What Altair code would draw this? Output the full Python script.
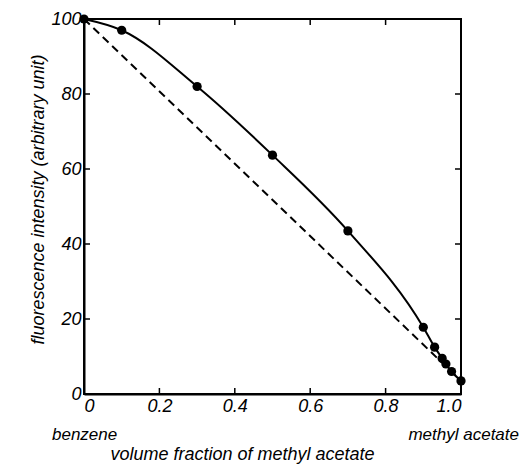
import altair as alt
import pandas as pd

# data
frac = [0.0, 0.1, 0.3, 0.5, 0.7, 0.9, 0.93, 0.95, 0.96, 0.975, 1.0]
intensity = [100, 97, 82, 63.7, 43.5, 17.8, 12.5, 9.5, 8.0, 6.0, 3.5]
ideal_x = [0.0, 1.0]
ideal_y = [100, 3.5]
x_ticks = [0.0, 0.2, 0.4, 0.6, 0.8, 1.0]
y_ticks = [0, 20, 40, 60, 80, 100]

FONT = "Liberation Sans"
W, H = 377, 375

pts = pd.DataFrame({"x": frac, "y": intensity})
ideal = pd.DataFrame({"x": ideal_x, "y": ideal_y})

xs = alt.Scale(domain=[0, 1], nice=False, zero=False)
ys = alt.Scale(domain=[0, 100], nice=False)

xax = alt.Axis(values=x_ticks, labelExpr="datum.value == 0 ? '0' : format(datum.value, '.1f')",
               title="volume fraction of methyl acetate", titleFont=FONT, titleFontSize=18,
               titleFontStyle="italic", titleFontWeight="normal", titlePadding=30, titleX=158,
               labelFont=FONT, labelFontSize=18, labelFontStyle="italic", labelPadding=3,
               tickSize=0, grid=False, domainColor="black", domainWidth=2,
               labelColor="black", titleColor="black")
yax = alt.Axis(values=y_ticks, title="fluorescence intensity (arbitrary unit)", titleFont=FONT,
               titleFontSize=18, titleFontStyle="italic", titleFontWeight="normal", titlePadding=3,
               titleY=180,
               labelFont=FONT, labelFontSize=18, labelFontStyle="italic", labelPadding=3,
               tickSize=0, grid=False, domainColor="black", domainWidth=2,
               labelColor="black", titleColor="black")

base = alt.Chart(pts)

curve = base.mark_line(color="black", strokeWidth=2, interpolate="monotone").encode(
    x=alt.X("x:Q", scale=xs, axis=xax), y=alt.Y("y:Q", scale=ys, axis=yax))
dots = base.mark_point(filled=True, color="black", size=85, opacity=1).encode(
    x=alt.X("x:Q", scale=xs), y=alt.Y("y:Q", scale=ys))
dash = alt.Chart(ideal).mark_line(color="black", strokeWidth=2, strokeDash=[8, 5]).encode(
    x=alt.X("x:Q", scale=xs), y=alt.Y("y:Q", scale=ys))

# inward ticks on all four sides
xt = pd.DataFrame({"x": x_ticks[1:-1]})
yt = pd.DataFrame({"y": y_ticks[1:-1]})
tick_b = alt.Chart(xt).mark_rule(color="black", strokeWidth=1.5).encode(
    x=alt.X("x:Q", scale=xs), y=alt.value(H), y2=alt.value(H - 6))
tick_t = alt.Chart(xt).mark_rule(color="black", strokeWidth=1.5).encode(
    x=alt.X("x:Q", scale=xs), y=alt.value(0), y2=alt.value(6))
tick_l = alt.Chart(yt).mark_rule(color="black", strokeWidth=1.5).encode(
    y=alt.Y("y:Q", scale=ys), x=alt.value(0), x2=alt.value(6))
tick_r = alt.Chart(yt).mark_rule(color="black", strokeWidth=1.5).encode(
    y=alt.Y("y:Q", scale=ys), x=alt.value(W), x2=alt.value(W - 6))

ends = pd.DataFrame({"x": [0.0, 1.0], "label": ["benzene", "methyl acetate"]})
t_benz = alt.Chart(ends.iloc[[0]]).mark_text(font=FONT, fontSize=17, fontStyle="italic",
                                            align="left", baseline="alphabetic", dx=-32,
                                            color="black").encode(
    x=alt.X("x:Q", scale=xs), y=alt.value(H + 46), text="label:N")
t_meth = alt.Chart(ends.iloc[[1]]).mark_text(font=FONT, fontSize=17, fontStyle="italic",
                                            align="right", baseline="alphabetic", dx=58,
                                            color="black").encode(
    x=alt.X("x:Q", scale=xs), y=alt.value(H + 46), text="label:N")

chart = alt.layer(dash, curve, dots, tick_b, tick_t, tick_l, tick_r, t_benz, t_meth).properties(
    width=W, height=H, autosize=alt.AutoSizeParams(type="none"),
    padding={"left": 76, "top": 11, "right": 60, "bottom": 80},
    background="white"
).configure_view(stroke="black", strokeWidth=2)

chart.save("out.html", embed_options={"renderer": "svg", "actions": False})
